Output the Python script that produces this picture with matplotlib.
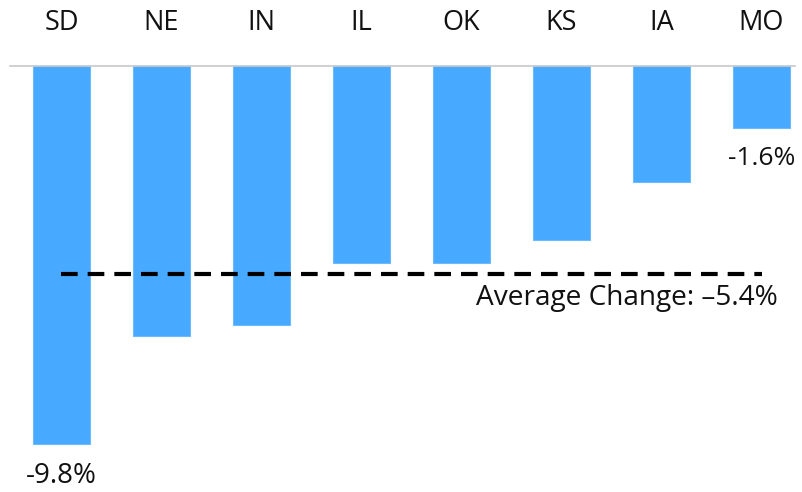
import matplotlib
matplotlib.use("Agg")
import matplotlib.pyplot as plt

states = ["SD", "NE", "IN", "IL", "OK", "KS", "IA", "MO"]
changes = [-9.8, -7.0, -6.7, -5.1, -5.1, -4.5, -3.0, -1.6]
average = -5.4
avg_label = "Average Change: \u20135.4%"

fig = plt.figure(figsize=(8.03, 4.92), dpi=100)
ax = fig.add_axes([0, 0, 1, 1])
ax.set_xlim(-0.615, 7.415)
ax.set_ylim(-11.04, 1.71)
ax.axis("off")

x = list(range(len(states)))
ax.bar(x, changes, width=0.57, color="#47A9FF", edgecolor="#6DBBFF", linewidth=0.8, zorder=2)
ax.plot([-0.515, 7.335], [0, 0], color="#C8C8C8", linewidth=1.2, zorder=3)

for xi, s in zip(x, states):
    ax.text(xi, 1.12, s, ha="center", va="center", fontsize=19.5, family="Open Sans", color="#111111")

ax.plot([0, 7], [average, average], color="black", linewidth=3, linestyle=(0, (4, 2.4)),
        dash_capstyle="butt", zorder=4)
ax.text(7.165, -6.02, avg_label, ha="right", va="center", fontsize=20.2,
        family="Open Sans", color="#111111")

ax.text(x[0], changes[0] - 0.83, f"{changes[0]:.1f}%", ha="center", va="center",
        fontsize=20, family="Open Sans", color="#111111")
ax.text(x[-1], changes[-1] - 0.79, f"{changes[-1]:.1f}%", ha="center", va="center",
        fontsize=19, family="Open Sans", color="#111111")

fig.savefig("out.png", dpi=100)
